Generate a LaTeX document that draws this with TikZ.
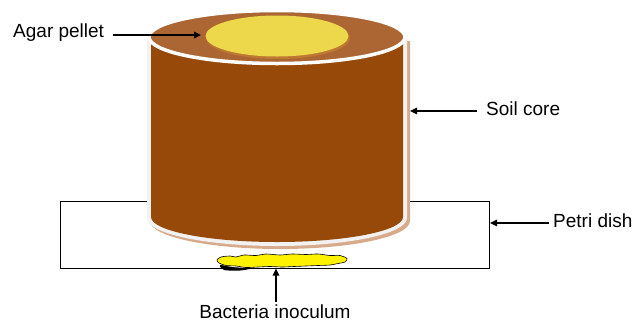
\documentclass[tikz,border=0pt]{standalone}
\usepackage{fontspec}
\setmainfont{Liberation Sans}
\usetikzlibrary{arrows.meta,shapes.geometric}
\definecolor{soilbody}{RGB}{151,73,10}
\definecolor{soiltop}{RGB}{172,102,52}
\definecolor{rimtan}{RGB}{216,170,140}
\definecolor{rimwhite}{RGB}{242,242,242}
\definecolor{agar}{RGB}{236,216,74}
\definecolor{agarshade}{RGB}{190,120,50}
\tikzset{
  label text/.style={font=\fontsize{19}{22}\selectfont, text=black, inner sep=0pt},
  pointer/.style={line width=1.1pt, -{Triangle[length=7pt,width=6.5pt]}},
}
\begin{document}
\begin{tikzpicture}[x=1pt,y=-1pt]
\useasboundingbox (0,0) rectangle (637,322);

% petri dish outline (behind the core)
\node[draw=black, line width=0.9pt, minimum width=429pt, minimum height=67pt, inner sep=0pt] (dish) at (274.5,234.5) {};

% soil core: tan shadow, white rim, brown body
\fill[rimtan] (150,41) -- (150,221) arc[start angle=180, end angle=0, x radius=130, y radius=28] -- (410,41) -- cycle;
\fill[rimwhite] (147,38) -- (147,218) arc[start angle=180, end angle=0, x radius=130, y radius=28] -- (407,38) -- cycle;
\fill[soilbody] (151,38) -- (151,217) arc[start angle=180, end angle=0, x radius=126, y radius=25] -- (403,38) -- cycle;

% top face of the core
\node[ellipse, fill=soiltop, draw=white, line width=3.5pt, minimum width=256pt, minimum height=53pt, inner sep=0pt] (top) at (277,37) {};

% agar pellet on the top face
\fill[agarshade] (278,38) ellipse[x radius=72, y radius=21];
\node[ellipse, fill=agar, minimum width=143pt, minimum height=41pt, inner sep=0pt] (pellet) at (277,36) {};

% bacteria inoculum under the dish
\fill[black] plot[smooth cycle] coordinates {(220,265) (232,267) (250,268.5) (240,270.5) (224,270)};
\filldraw[fill=yellow, draw=black, line width=0.6pt] plot[smooth cycle] coordinates {
  (217,260) (221,257) (230,256) (236,257) (244,255) (256,255.5) (266,254) (280,255)
  (292,254) (306,254.5) (318,254) (330,255.5) (340,255.5) (347,258.5) (345,262) (338,263.5)
  (330,265) (318,265.5) (306,266) (294,266.5) (282,267) (270,266.5) (258,267) (246,267.5)
  (236,266) (226,265.5) (219,263)};

% labels
\node[label text, anchor=west] (agarlbl) at (13,33) {Agar pellet};
\node[label text, anchor=west] (soillbl) at (486,109) {Soil core};
\node[label text, anchor=west] (dishlbl) at (553,221) {Petri dish};
\node[label text, anchor=north] (bactlbl) at (275,305) {Bacteria inoculum};

% pointer ends
\coordinate (agarstart) at (113,35);
\coordinate (agarend) at (201,35);
\coordinate (soilstart) at (477,111);
\coordinate (coreedge) at (410,111);
\coordinate (dishstart) at (549,223);
\coordinate (dishedge) at (490,223);
\coordinate (bactstart) at (276,302);
\coordinate (blob) at (276,268.5);

% pointers
\draw[pointer] (agarstart) -- (agarend);
\draw[pointer] (soilstart) -- (coreedge);
\draw[pointer] (dishstart) -- (dishedge);
\draw[pointer] (bactstart) -- (blob);
\end{tikzpicture}
\end{document}
